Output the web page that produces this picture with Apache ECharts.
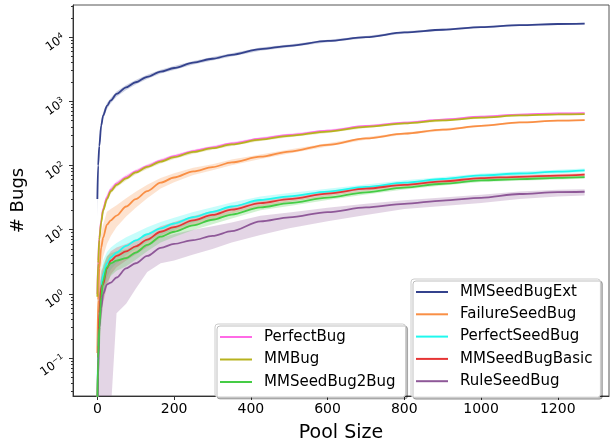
<!DOCTYPE html>
<html>
<head>
<meta charset="utf-8">
<script src="https://cdn.jsdelivr.net/npm/echarts@6/dist/echarts.min.js"></script>
<style>html,body{margin:0;padding:0;background:#fff;}#c{width:611px;height:448px;}</style>
</head>
<body>
<div id="c"></div>
<script>
// ---- data ----
const poolSize = [0, 2, 5, 10, 15, 25, 35, 50, 75, 100, 130, 165, 200, 250, 300, 350, 425, 500, 600, 700, 800, 900, 1000, 1100, 1200, 1270];

const mmSeedBugExt      = [30, 100, 200, 420, 600, 850, 1030, 1300, 1650, 1980, 2400, 2900, 3300, 4000, 4600, 5300, 6500, 7300, 8700, 10000, 11800, 13000, 14300, 15300, 16000, 16200];
const mmSeedBugExtLo    = [16, 70, 160, 360, 530, 760, 930, 1180, 1500, 1820, 2220, 2700, 3080, 3750, 4330, 5000, 6150, 6950, 8300, 9600, 11350, 12550, 13850, 14850, 15550, 15750];
const mmSeedBugExtHi    = [45, 130, 245, 480, 670, 940, 1130, 1420, 1800, 2150, 2590, 3110, 3530, 4260, 4880, 5610, 6870, 7680, 9120, 10430, 12280, 13480, 14780, 15780, 16480, 16680];

const failureSeedBug    = [0.12, 0.8, 2.5, 5.3, 7.5, 12, 14, 16.6, 23, 30, 40, 54, 65, 81, 94, 112, 137, 165, 210, 264, 313, 361, 414, 468, 500, 510];
const failureSeedBugLo  = [0.03, 0.3, 1.2, 2.5, 3.8, 6, 8, 11, 16, 22, 31, 44, 55, 71, 84, 101, 126, 154, 198, 252, 301, 346, 401, 456, 488, 498];
const failureSeedBugHi  = [0.5, 2, 5, 9, 12, 19, 21, 24, 31, 39, 50, 64, 76, 92, 105, 124, 149, 177, 222, 278, 327, 376, 428, 482, 514, 524];

const perfectSeedBug    = [0.02, 0.15, 0.4, 1.2, 2.0, 3.0, 3.7, 4.4, 5.6, 6.8, 8.5, 10.5, 12.5, 15.7, 19, 23, 29, 33, 39.3, 46.4, 54, 61.6, 70, 75, 80, 84];
const perfectSeedBugLo  = [0.005, 0.05, 0.15, 0.5, 1.0, 1.8, 2.4, 3.0, 4.0, 5.0, 6.5, 8.2, 10, 12.9, 15.9, 19.5, 25, 29, 34.6, 41.5, 49, 55.8, 64.7, 69.5, 74.2, 78.5];
const perfectSeedBugHi  = [0.2, 0.6, 1.2, 2.4, 3.3, 4.5, 5.3, 6.2, 7.6, 9, 10.9, 13.2, 15.4, 18.8, 22.3, 26.6, 33, 37.2, 43.5, 50.6, 59, 66.4, 75.3, 80.5, 85.8, 89.5];

const mmSeedBugBasic    = [0.02, 0.1, 0.5, 1.3, 1.4, 2.5, 3.3, 3.9, 4.6, 5.5, 7, 9.3, 11, 14, 17, 20.5, 26, 30, 36.5, 43.5, 50, 56.7, 63.5, 66.7, 69.7, 72];
const mmSeedBugBasicLo  = [0.005, 0.03, 0.15, 0.4, 0.7, 1.3, 2.0, 2.6, 3.3, 4.1, 5.4, 7.4, 9, 11.7, 14.5, 17.8, 23, 27, 33.2, 40, 46.3, 52.8, 59.4, 62.5, 65.5, 67.8];
const mmSeedBugBasicHi  = [0.15, 0.5, 1.2, 2.3, 2.6, 3.8, 4.6, 5.3, 6.0, 7.0, 8.7, 11.3, 13.2, 16.4, 19.6, 23.2, 29, 33, 39.7, 47, 53.7, 60.6, 67.6, 70.9, 73.9, 76.2];

const ruleSeedBug       = [0.01, 0.05, 0.3, 0.6, 1.0, 1.4, 1.5, 1.8, 2.5, 3.0, 3.9, 5.2, 6.0, 6.9, 8.0, 9.5, 13.5, 15.6, 18.8, 22.2, 25.3, 28.4, 31.4, 36, 38.5, 39];
const ruleSeedBugLo     = [0.001, 0.001, 0.001, 0.003, 0.005, 0.01, 0.015, 0.5, 0.7, 1.2, 2.2, 3.0, 3.3, 4.1, 5.0, 6.3, 8.3, 10.5, 13.5, 17, 21, 23.5, 26, 30, 33, 34];
const ruleSeedBugHi     = [0.3, 0.6, 1.2, 1.8, 2.2, 2.6, 2.9, 3.3, 3.8, 4.6, 5.8, 7.5, 8.6, 10, 11.3, 13, 16.5, 18.5, 22, 25.4, 28.8, 31.8, 35, 39.5, 42, 42.5];

const perfectBug        = [1.0, 3.3, 7.5, 14, 21, 32, 42, 52, 66, 81, 98, 119, 140, 168, 192, 220, 262, 300, 348, 412, 465, 518, 575, 622, 648, 655];
const perfectBugLo      = [0.7, 2.5, 6.2, 12, 18.5, 28.5, 38, 48, 61, 75, 91, 111, 131, 158, 181, 208, 248, 285, 332, 395, 447, 500, 556, 603, 629, 636];
const perfectBugHi      = [1.3, 4.2, 9, 16, 23.5, 36, 46.5, 57, 71.5, 87, 105, 127, 149, 178, 203, 232, 276, 315, 364, 429, 483, 536, 594, 641, 667, 674];

const mmBug             = [0.9, 3.0, 7.0, 13, 20, 30, 40, 50, 63, 78, 95, 115, 135, 163, 186, 213, 253, 290, 337, 400, 452, 503, 557, 602, 625, 630];
const mmBugLo           = [0.6, 2.3, 5.8, 11.3, 17.6, 27, 36.2, 46, 58.5, 72.5, 88.5, 107.5, 126.5, 153, 175.5, 201.5, 240, 276, 322, 384, 435, 486, 539, 584, 607, 612];
const mmBugHi           = [1.2, 3.8, 8.4, 14.9, 22.6, 33.3, 44, 54.5, 67.8, 83.7, 101.6, 122.6, 143.6, 173, 196.7, 224.7, 266, 304, 352, 416, 469, 520, 575, 620, 643, 648];

const mmSeedBug2Bug     = [0.02, 0.1, 0.3, 0.9, 1.6, 2.6, 3.0, 3.3, 3.6, 4.4, 5.8, 7.8, 9.3, 11.7, 14.3, 17.2, 22.3, 25.9, 31.6, 38.2, 45.3, 52, 58.6, 61.4, 64.1, 66];
const mmSeedBug2BugLo   = [0.005, 0.03, 0.1, 0.35, 0.8, 1.5, 1.9, 2.3, 2.7, 3.4, 4.6, 6.3, 7.7, 9.9, 12.2, 15, 20, 23.5, 29, 35.4, 42.3, 48.8, 55.2, 58, 60.6, 62.4];
const mmSeedBug2BugHi   = [0.15, 0.4, 0.9, 1.8, 2.8, 3.9, 4.3, 4.6, 4.9, 5.7, 7.3, 9.5, 11.1, 13.7, 16.4, 19.4, 24.8, 28.5, 34.4, 41.2, 48.5, 55.4, 62.2, 65, 67.8, 69.8];

const xTicks = [0, 200, 400, 600, 800, 1000, 1200];
const yTicks = [0.1, 1, 10, 100, 1000, 10000];
const yMinorTicks = [0.03,0.04,0.05,0.06,0.07,0.08,0.09,0.2,0.3,0.4,0.5,0.6,0.7,0.8,0.9,2,3,4,5,6,7,8,9,20,30,40,50,60,70,80,90,200,300,400,500,600,700,800,900,2000,3000,4000,5000,6000,7000,8000,9000,20000,30000];

const seriesDefs = [
  {name: 'MMSeedBugExt',   color: '#34428d', y: mmSeedBugExt,   lo: mmSeedBugExtLo,   hi: mmSeedBugExtHi},
  {name: 'FailureSeedBug', color: '#f98f45', y: failureSeedBug, lo: failureSeedBugLo, hi: failureSeedBugHi},
  {name: 'PerfectSeedBug', color: '#1ff8ee', y: perfectSeedBug, lo: perfectSeedBugLo, hi: perfectSeedBugHi},
  {name: 'MMSeedBugBasic', color: '#e63434', y: mmSeedBugBasic, lo: mmSeedBugBasicLo, hi: mmSeedBugBasicHi},
  {name: 'RuleSeedBug',    color: '#8e5898', y: ruleSeedBug,    lo: ruleSeedBugLo,    hi: ruleSeedBugHi},
  {name: 'MMSeedBug2Bug',  color: '#45cc45', y: mmSeedBug2Bug,  lo: mmSeedBug2BugLo,  hi: mmSeedBug2BugHi},
  {name: 'PerfectBug',     color: '#ff6ae6', y: perfectBug,     lo: perfectBugLo,     hi: perfectBugHi},
  {name: 'MMBug',          color: '#b7b21e', y: mmBug,          lo: mmBugLo,          hi: mmBugHi}
];

const FONT = 'DejaVu Sans';

function bandRenderer(lo, hi, color) {
  return function (params, api) {
    if (params.dataIndex !== 0) return;
    const pts = [];
    for (let i = 0; i < poolSize.length; i++) pts.push(api.coord([poolSize[i], hi[i]]));
    for (let i = poolSize.length - 1; i >= 0; i--) pts.push(api.coord([poolSize[i], lo[i]]));
    const cs = params.coordSys;
    return {
      type: 'group',
      clipPath: {type: 'rect', shape: {x: cs.x, y: cs.y, width: cs.width, height: cs.height}},
      children: [{type: 'polygon', shape: {points: pts}, style: {fill: color, opacity: 0.25}}]
    };
  };
}

const series = [];
seriesDefs.forEach(function (d) {
  series.push({
    type: 'custom',
    renderItem: bandRenderer(d.lo, d.hi, d.color),
    data: [[poolSize[0], d.y[0]]],
    encode: {x: 0, y: 1},
    silent: true,
    z: 1
  });
});
seriesDefs.forEach(function (d) {
  series.push({
    name: d.name,
    type: 'line',
    data: poolSize.map(function (x, i) { return [x, d.y[i]]; }),
    showSymbol: false,
    symbol: 'none',
    smooth: 0.3,
    smoothMonotone: 'x',
    clip: true,
    lineStyle: {color: d.color, width: 1.8},
    itemStyle: {color: d.color},
    z: 3
  });
});

function supLabel(v) {
  const e = Math.round(Math.log10(v));
  return '10{s|' + (e < 0 ? '\u2212' + (-e) : e) + '}';
}

const legendCommon = {
  orient: 'vertical',
  icon: 'rect',
  itemWidth: 32,
  itemHeight: 2,
  itemGap: 2.3,
  backgroundColor: '#fff',
  borderColor: '#cccccc',
  borderWidth: 1,
  borderRadius: 3,
  shadowColor: 'rgba(0,0,0,0.25)',
  shadowBlur: 0,
  shadowOffsetX: 2,
  shadowOffsetY: 2,
  textStyle: {fontFamily: FONT, fontSize: 15, color: '#000', lineHeight: 20, padding: [0, 0, 0, 7]}
};

const option = {
  animation: false,
  backgroundColor: '#fff',
  grid: {left: 73, right: 2, top: 5, bottom: 44, show: true, borderColor: '#555', borderWidth: 1, backgroundColor: 'transparent'},
  xAxis: {
    type: 'value',
    min: -63.5,
    max: 1333.5,
    name: 'Pool Size',
    nameLocation: 'middle',
    nameGap: 28,
    nameTextStyle: {fontFamily: FONT, fontSize: 19, color: '#000'},
    axisLine: {show: true, onZero: false, lineStyle: {color: '#333'}},
    axisTick: {show: true, inside: false, length: 4, customValues: xTicks, lineStyle: {color: '#333'}},
    axisLabel: {customValues: xTicks, formatter: function (v) { return String(v); }, fontFamily: FONT, fontSize: 14, color: '#000', margin: 6},
    splitLine: {show: false}
  },
  yAxis: [{
    type: 'log',
    logBase: 10,
    min: 0.0257,
    max: 31600,
    name: '# Bugs',
    nameLocation: 'middle',
    nameGap: 44,
    nameTextStyle: {fontFamily: FONT, fontSize: 18, color: '#000'},
    axisLine: {show: true, onZero: false, lineStyle: {color: '#333'}},
    axisTick: {show: true, length: 4, customValues: yTicks, lineStyle: {color: '#333'}},
    axisLabel: {
      customValues: yTicks,
      rotate: 35,
      margin: 9,
      formatter: supLabel,
      fontFamily: FONT, fontSize: 12, color: '#000',
      rich: {s: {fontFamily: FONT, fontSize: 8, color: '#000', verticalAlign: 'top', padding: [0, 0, 6, 0]}}
    },
    splitLine: {show: false}
  }, {
    type: 'log',
    logBase: 10,
    min: 0.0257,
    max: 31600,
    position: 'left',
    axisLine: {show: false, onZero: false},
    axisTick: {show: true, length: 2, customValues: yMinorTicks, lineStyle: {color: '#333'}},
    axisLabel: {show: false},
    splitLine: {show: false}
  }],
  legend: [
    Object.assign({}, legendCommon, {
      left: 215, top: 324, padding: [3, 10, 5, 5], itemGap: 2.5,
      data: ['PerfectBug', 'MMBug', 'MMSeedBug2Bug']
    }),
    Object.assign({}, legendCommon, {
      left: 411, top: 279, padding: [3, 8, 6, 5],
      data: ['MMSeedBugExt', 'FailureSeedBug', 'PerfectSeedBug', 'MMSeedBugBasic', 'RuleSeedBug']
    })
  ],
  series: series
};

const chart = echarts.init(document.getElementById('c'), null, {renderer: 'canvas'});
chart.setOption(option);
</script>
</body>
</html>
